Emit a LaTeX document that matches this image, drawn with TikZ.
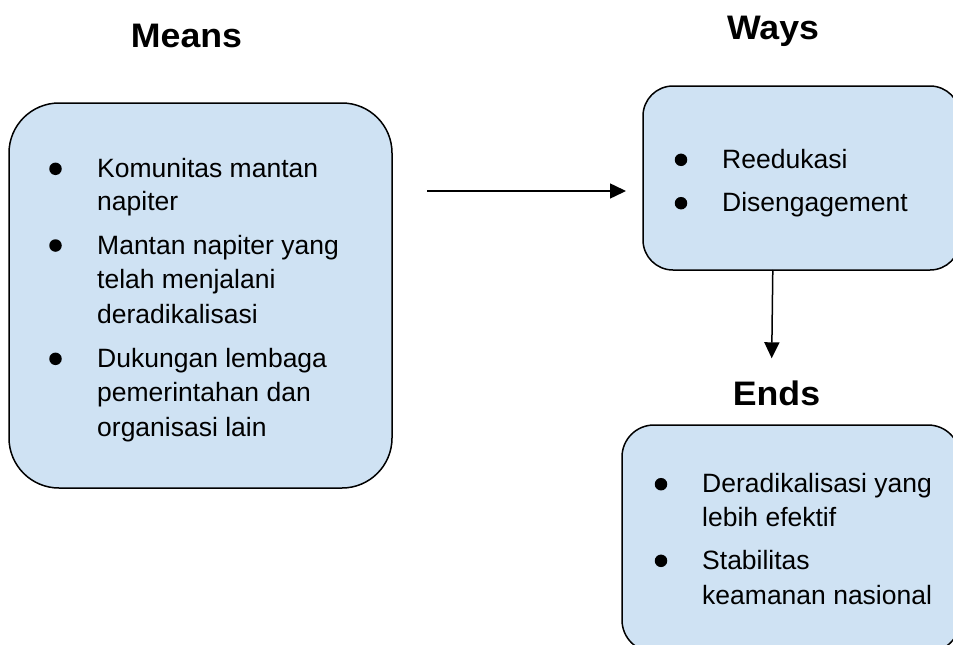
\documentclass[tikz,border=0pt]{standalone}
\usepackage{fontspec}
\setmainfont{Liberation Sans}
\usetikzlibrary{arrows.meta}
\definecolor{boxblue}{RGB}{207,226,243}
\newcommand\titlestretch[1]{\scalebox{1.05}[1]{#1}}
\begin{document}
\begin{tikzpicture}[x=1pt,y=-1pt,
  box/.style={draw=black, line width=1.5pt, fill=boxblue, inner sep=0pt, outer sep=0pt},
  title/.style={font=\fontsize{34}{40}\selectfont\bfseries, inner sep=0pt, anchor=base},
  body/.style={font=\fontsize{26.5}{34}\selectfont, inner sep=0pt, anchor=base west},
  bul/.style={fill=black, circle, inner sep=0pt, minimum size=12.5pt},
  conn/.style={line width=1.5pt, -{Triangle[length=16pt,width=15pt]}}]
\useasboundingbox (0,0) rectangle (953,645);
\clip (0,0) rectangle (953,645);
\fill[white] (0,0) rectangle (953,645);
% boxes
\node[box, rounded corners=50pt, minimum width=383pt, minimum height=385pt] (means) at (200.5,295.5) {};
\node[box, rounded corners=30pt, minimum width=317pt, minimum height=184pt] (ways) at (801.5,178) {};
\node[box, rounded corners=32pt, minimum width=338pt, minimum height=227pt] (ends) at (791,538.5) {};
% titles
\node[title] (tmeans) at (186.5,47) {\titlestretch{Means}};
\node[title] (tways) at (773,39.5) {\titlestretch{Ways}};
\node[title] (tends) at (776.5,405.5) {\titlestretch{Ends}};
% means text
\node[bul] (mb1) at (55.5,168.8) {};
\node[bul] (mb2) at (55.5,245.5) {};
\node[bul] (mb3) at (55.5,358.8) {};
\node[body] (m1) at (97,177.3) {Komunitas mantan};
\node[body] (m2) at (97,210.7) {napiter};
\node[body] (m3) at (97,254) {Mantan napiter yang};
\node[body] (m4) at (97,288.3) {telah menjalani};
\node[body] (m5) at (97,323.3) {deradikalisasi};
\node[body] (m6) at (97,367.3) {Dukungan lembaga};
\node[body] (m7) at (97,401.7) {pemerintahan dan};
\node[body] (m8) at (97,436.7) {organisasi lain};
% ways text
\node[bul] (wb1) at (681,159.8) {};
\node[bul] (wb2) at (681,203.2) {};
\node[body] (w1) at (722,168.3) {Reedukasi};
\node[body] (w2) at (722,211.7) {Disengagement};
% ends text
\node[bul] (eb1) at (661,484.2) {};
\node[bul] (eb2) at (661,560.8) {};
\node[body] (e1) at (702,492.7) {Deradikalisasi yang};
\node[body] (e2) at (702,526.7) {lebih efektif};
\node[body] (e3) at (702,569.3) {Stabilitas};
\node[body] (e4) at (702,604) {keamanan nasional};
% connectors
\coordinate (a1s) at (427,191);
\coordinate (a1e) at (626,191);
\coordinate (a2s) at (772.8,270);
\coordinate (a2e) at (771.7,358.3);
\draw[conn] (a1s) -- (a1e);
\draw[conn] (a2s) -- (a2e);
\end{tikzpicture}
\end{document}
